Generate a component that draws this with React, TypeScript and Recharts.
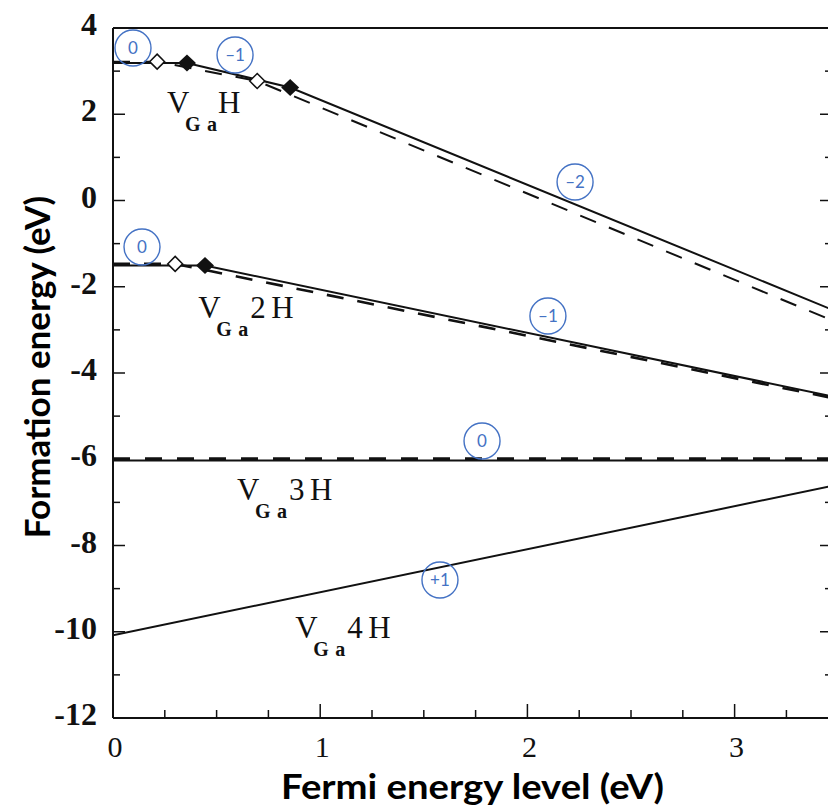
import React from 'react';
import { ComposedChart, Line, Scatter, XAxis, YAxis, ReferenceDot } from 'recharts';

const X_MAX = 3.47;
const xTicks = [0, 0.25, 0.5, 0.75, 1, 1.25, 1.5, 1.75, 2, 2.25, 2.5, 2.75, 3, 3.25];
const yTicks = [4, 3, 2, 1, 0, -1, -2, -3, -4, -5, -6, -7, -8, -9, -10, -11, -12];

// V_Ga H
const vgaHSolid = [
  { x: 0, y: 3.19 },
  { x: 0.357, y: 3.19 },
  { x: 0.855, y: 2.62 },
  { x: 3.47, y: -2.53 },
];
const vgaHDashed = [
  { x: 0, y: 3.22 },
  { x: 0.213, y: 3.22 },
  { x: 0.696, y: 2.77 },
  { x: 3.47, y: -2.78 },
];
// V_Ga 2H
const vga2HSolid = [
  { x: 0, y: -1.51 },
  { x: 0.444, y: -1.51 },
  { x: 3.47, y: -4.54 },
];
const vga2HDashed = [
  { x: 0, y: -1.47 },
  { x: 0.3, y: -1.47 },
  { x: 3.47, y: -4.58 },
];
// V_Ga 3H
const vga3HSolid = [
  { x: 0, y: -6.03 },
  { x: 3.47, y: -6.03 },
];
const vga3HDashed = [
  { x: 0, y: -5.985 },
  { x: 3.47, y: -5.985 },
];
// V_Ga 4H
const vga4HSolid = [
  { x: 0, y: -10.08 },
  { x: 3.47, y: -6.62 },
];

const filledDiamonds = [
  { x: 0.357, y: 3.19 },
  { x: 0.855, y: 2.62 },
  { x: 0.444, y: -1.51 },
];
const openDiamonds = [
  { x: 0.213, y: 3.22 },
  { x: 0.696, y: 2.77 },
  { x: 0.3, y: -1.47 },
];

const chargeMarks = [
  { x: 0.0965, y: 3.536, label: '0' },
  { x: 0.589, y: 3.374, label: '\u20131' },
  { x: 2.23, y: 0.429, label: '\u20132' },
  { x: 0.14, y: -1.078, label: '0' },
  { x: 2.099, y: -2.678, label: '\u20131' },
  { x: 1.781, y: -5.577, label: '0' },
  { x: 1.578, y: -8.8, label: '+1' },
];

const speciesLabels = [
  { x: 0.261, y: 2.029, n: '' },
  { x: 0.411, y: -2.725, n: '2' },
  { x: 0.599, y: -6.945, n: '3' },
  { x: 0.879, y: -10.145, n: '4' },
];

const SERIF = '"Liberation Serif", "Times New Roman", serif';
const SANS = 'Lato, "Open Sans", "Noto Sans", sans-serif';
const BLUE = '#4472C4';
const INK = '#111';

function LeftTick(props: any) {
  const { x, y, payload } = props;
  const v = payload.value;
  const major = v % 2 === 0;
  return (
    <g>
      <line x1={x} x2={x + (major ? 12 : 7)} y1={y} y2={y} stroke={INK} strokeWidth={1.5} />
      {major ? (
        <text x={x - 16} y={y + 7} textAnchor="end" fontFamily={SERIF} fontSize={32} fontWeight="bold" fill={INK}>
          {String(v)}
        </text>
      ) : null}
    </g>
  );
}

function RightTick(props: any) {
  const { x, y, payload } = props;
  const v = payload.value;
  const major = v % 2 === 0;
  return <line x1={x} x2={x - (major ? 12 : 7)} y1={y} y2={y} stroke={INK} strokeWidth={1.5} />;
}

function BottomTick(props: any) {
  const { x, y, payload } = props;
  const v = payload.value;
  const major = Number.isInteger(v);
  return (
    <g>
      <line x1={x} x2={x} y1={y} y2={y - (major ? 14 : 8)} stroke={INK} strokeWidth={1.5} />
      {major ? (
        <text x={x + 2} y={y + 39} textAnchor="middle" fontFamily={SERIF} fontSize={30} fill={INK}>
          {String(v)}
        </text>
      ) : null}
    </g>
  );
}

function TopTick(props: any) {
  const { x, y, payload } = props;
  const v = payload.value;
  const major = Number.isInteger(v);
  return <line x1={x} x2={x} y1={y} y2={y + (major ? 12 : 7)} stroke={INK} strokeWidth={1.5} />;
}

function SpeciesLabel(props: any) {
  const { cx, cy, n } = props;
  return (
    <g fill={INK} fontFamily={SERIF}>
      <text x={cx} y={cy} fontSize={31}>V</text>
      <text x={cx + 18} y={cy + 18} fontSize={20} fontWeight="bold">G</text>
      <text x={cx + 40} y={cy + 18} fontSize={20} fontWeight="bold">a</text>
      {n ? (
        <text x={cx + 52} y={cy} fontSize={31}>
          {n}
        </text>
      ) : null}
      <text x={cx + (n ? 73 : 51)} y={cy} fontSize={31}>H</text>
    </g>
  );
}

function ChargeCircle(props: any) {
  const { cx, cy, label } = props;
  return (
    <g>
      <circle cx={cx} cy={cy} r={18} fill="none" stroke={BLUE} strokeWidth={1.4} />
      <text x={cx} y={cy + 6} textAnchor="middle" fontFamily={SANS} fontSize={17} fill={BLUE}>
        {label}
      </text>
    </g>
  );
}

const filledShape = (p: any) => (
  <polygon
    points={`${p.cx},${p.cy - 8.5} ${p.cx + 9},${p.cy} ${p.cx},${p.cy + 8.5} ${p.cx - 9},${p.cy}`}
    fill={INK}
  />
);
const openShape = (p: any) => (
  <polygon
    points={`${p.cx},${p.cy - 7.5} ${p.cx + 7.5},${p.cy} ${p.cx},${p.cy + 7.5} ${p.cx - 7.5},${p.cy}`}
    fill="#fff"
    stroke={INK}
    strokeWidth={1.5}
  />
);

const xTitle = (p: any) => {
  const vb = p.viewBox || { x: 113, y: 718, width: 719, height: 50 };
  return (
    <text
      x={vb.x + vb.width / 2}
      y={vb.y + 81}
      textAnchor="middle"
      fontFamily={SANS}
      fontWeight="bold"
      fontSize={35}
      textLength={383}
      lengthAdjust="spacingAndGlyphs"
      fill="#000"
    >
      Fermi energy level (eV)
    </text>
  );
};

const yTitle = (p: any) => {
  const vb = p.viewBox || { x: 53, y: 28, width: 60, height: 690 };
  const cx = vb.x - 3;
  const cy = vb.y + vb.height / 2 - 6;
  return (
    <text
      x={cx}
      y={cy}
      textAnchor="middle"
      transform={`rotate(-90, ${cx}, ${cy})`}
      fontFamily={SANS}
      fontWeight="bold"
      fontSize={35}
      fill="#000"
    >
      Formation energy (eV)
    </text>
  );
};

const lineCommon = {
  type: 'linear' as const,
  dataKey: 'y',
  stroke: INK,
  strokeWidth: 2,
  dot: false,
  activeDot: false,
  isAnimationActive: false,
  legendType: 'none' as const,
};

export default function App() {
  return (
    <div
      style={{
        position: 'absolute',
        left: 0,
        top: 0,
        width: 828,
        height: 807,
        overflow: 'hidden',
        background: '#fff',
      }}
    >
      <ComposedChart width={840} height={807} margin={{ top: 27, right: 7, bottom: 39, left: 53 }}>
        <XAxis
          dataKey="x"
          type="number"
          domain={[0, X_MAX]}
          allowDataOverflow
          ticks={xTicks}
          interval={0}
          tickSize={0}
          tickMargin={0}
          tickLine={false}
          tick={BottomTick}
          axisLine={{ stroke: INK, strokeWidth: 2 }}
          height={50}
          label={xTitle}
        />
        <XAxis
          xAxisId="t"
          orientation="top"
          type="number"
          domain={[0, X_MAX]}
          allowDataOverflow
          ticks={xTicks}
          interval={0}
          tickSize={0}
          tickMargin={0}
          tickLine={false}
          tick={TopTick}
          axisLine={{ stroke: INK, strokeWidth: 2 }}
          height={1}
        />
        <YAxis
          dataKey="y"
          type="number"
          domain={[-12, 4]}
          allowDataOverflow
          ticks={yTicks}
          interval={0}
          tickSize={0}
          tickMargin={0}
          tickLine={false}
          tick={LeftTick}
          axisLine={{ stroke: INK, strokeWidth: 2 }}
          width={60}
          label={yTitle}
        />
        <YAxis
          yAxisId="r"
          orientation="right"
          type="number"
          domain={[-12, 4]}
          allowDataOverflow
          ticks={yTicks}
          interval={0}
          tickSize={0}
          tickMargin={0}
          tickLine={false}
          tick={RightTick}
          axisLine={{ stroke: INK, strokeWidth: 2 }}
          width={1}
        />

        <Line {...lineCommon} data={vgaHSolid} name="VGaH" />
        <Line {...lineCommon} data={vgaHDashed} name="VGaH dashed" strokeDasharray="17 14" />
        <Line {...lineCommon} data={vga2HSolid} name="VGa2H" />
        <Line {...lineCommon} data={vga2HDashed} name="VGa2H dashed" strokeDasharray="17 14" strokeWidth={2.6} />
        <Line {...lineCommon} data={vga3HSolid} name="VGa3H" />
        <Line {...lineCommon} data={vga3HDashed} name="VGa3H dashed" strokeDasharray="17 15" strokeWidth={2.6} />
        <Line {...lineCommon} data={vga4HSolid} name="VGa4H" />

        <Scatter data={openDiamonds} isAnimationActive={false} shape={openShape} legendType="none" />
        <Scatter data={filledDiamonds} isAnimationActive={false} shape={filledShape} legendType="none" />

        {speciesLabels.map((s, i) => (
          <ReferenceDot
            key={`s${i}`}
            x={s.x}
            y={s.y}
            r={0}
            ifOverflow="visible"
            shape={(p: any) => <SpeciesLabel cx={p.cx} cy={p.cy} n={s.n} />}
          />
        ))}
        {chargeMarks.map((c, i) => (
          <ReferenceDot
            key={`c${i}`}
            x={c.x}
            y={c.y}
            r={18}
            ifOverflow="visible"
            shape={(p: any) => <ChargeCircle cx={p.cx} cy={p.cy} label={c.label} />}
          />
        ))}
      </ComposedChart>
    </div>
  );
}
